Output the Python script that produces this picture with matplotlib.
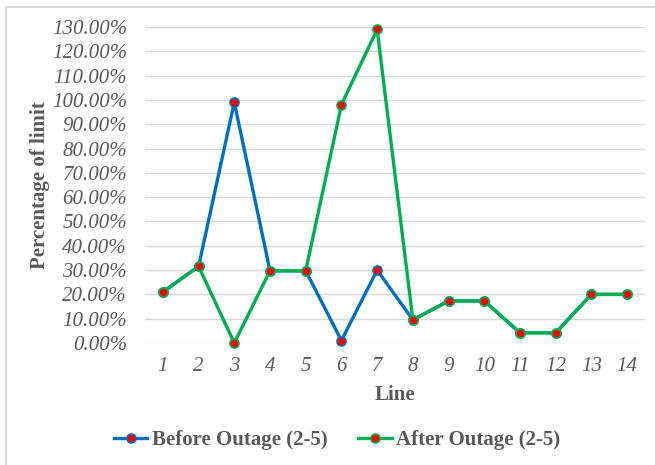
import numpy as np
import matplotlib
matplotlib.use("Agg")
import matplotlib.pyplot as plt
from matplotlib.lines import Line2D
from matplotlib.ticker import FuncFormatter

lines = np.arange(1, 15)
before = [0.21, 0.315, 0.99, 0.297, 0.297, 0.01, 0.30, 0.095, 0.173, 0.173, 0.042, 0.042, 0.20, 0.20]
after = [0.21, 0.315, 0.0, 0.297, 0.297, 0.98, 1.29, 0.095, 0.173, 0.173, 0.042, 0.042, 0.20, 0.20]
yticks = np.arange(0, 1.31, 0.1)

plt.rcParams['font.family'] = ['Liberation Serif', 'DejaVu Serif']
grey = '#595959'
fs = 15

fig = plt.figure(figsize=(6.55, 4.65), dpi=100)
ax = fig.add_axes([145/655, 122/465, 500/655, 316/465])

ax.plot(lines, before, color='#0070c0', lw=2.4, marker='o', ms=6.5,
        mfc='#ff0000', mec='#0070c0', mew=1.2, clip_on=False, zorder=3,
        label='Before Outage (2-5)')
ax.plot(lines, after, color='#00b050', lw=2.4, marker='o', ms=6.5,
        mfc='#ff0000', mec='#00b050', mew=1.2, clip_on=False, zorder=4,
        label='After Outage (2-5)')

ax.set_xlim(0.5, 14.5)
ax.set_ylim(0, 1.3)
ax.set_xticks(lines)
ax.set_yticks(yticks)
ax.yaxis.set_major_formatter(FuncFormatter(lambda v, p: '%.2f%%' % (v*100)))
ax.tick_params(length=0, labelsize=fs, labelcolor=grey)
ax.tick_params(axis='x', pad=10)
ax.tick_params(axis='y', pad=13)
for t in ax.get_xticklabels() + ax.get_yticklabels():
    t.set_fontstyle('italic')
ax.grid(axis='y', color='#d9d9d9', lw=1)
ax.set_axisbelow(True)
for s in ax.spines.values():
    s.set_visible(False)

fig.text(395/655, 1 - 395/465, 'Line', ha='center', va='center',
         fontsize=fs, fontweight='bold', color=grey)
fig.text(40/655, 1 - 185/465, 'Percentage of limit', rotation=90, ha='center', va='center',
         fontsize=fs, fontweight='bold', color=grey)

leg = fig.legend(loc='center', bbox_to_anchor=(337/655, 1 - 440/465), ncol=2, frameon=False,
                 prop={'size': fs, 'weight': 'bold'}, handlelength=1.6, handletextpad=0.2,
                 columnspacing=1.5)
for t in leg.get_texts():
    t.set_color(grey)

# outer border
fig.add_artist(Line2D([5.5/655, 5.5/655], [0, 1 - 7/465], color='#d9d9d9', lw=1.5))
fig.add_artist(Line2D([5.5/655, 1], [1 - 7/465, 1 - 7/465], color='#d9d9d9', lw=1.5))

fig.savefig('out.png', dpi=100)
